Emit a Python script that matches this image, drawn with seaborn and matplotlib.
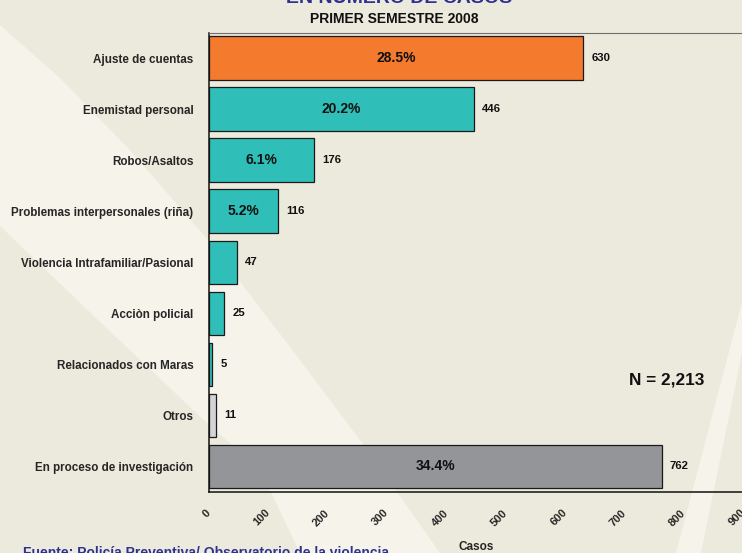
import numpy as np
import pandas as pd
import matplotlib
matplotlib.use("Agg")
import matplotlib.pyplot as plt
from matplotlib.patches import Polygon
import seaborn as sns

# ==========================================
# DATA
# ==========================================
categories = [
    "Ajuste de cuentas",
    "Enemistad personal",
    "Robos/Asaltos",
    "Problemas interpersonales (riña)",
    "Violencia Intrafamiliar/Pasional",
    "Acciòn policial",
    "Relacionados con Maras",
    "Otros",
    "En proceso de investigación",
]
casos = [630, 446, 176, 116, 47, 25, 5, 11, 762]
pct_labels = ["28.5%", "20.2%", "6.1%", "5.2%", "", "", "", "", "34.4%"]
bar_colors = ["#F47A2D", "#2FBFB8", "#2FBFB8", "#2FBFB8", "#2FBFB8",
              "#2FBFB8", "#2FBFB8", "#D4D4D6", "#949598"]
x_ticks = [0, 100, 200, 300, 400, 500, 600, 700, 800, 900]

df = pd.DataFrame({"categoria": categories, "casos": casos})

# ==========================================
# STYLE
# ==========================================
sns.set_style("white")
plt.rcParams["font.family"] = ["Liberation Sans", "DejaVu Sans"]
plt.rcParams["font.weight"] = "bold"

BG = "#ECEADC"
LIGHT = "#F5F3EA"
BLUE = "#2E3192"

W, H = 742, 553
fig = plt.figure(figsize=(W / 100, H / 100), dpi=100)
fig.patch.set_facecolor(BG)


def px(points):
    # pixel coords (y down) -> figure fraction
    return [(x / W, 1 - y / H) for x, y in points]


# light diagonal bands in the background
band1 = [(0, 25), (60, 78), (130, 150), (209, 241), (300, 360), (369, 452), (440, 553),
         (300, 553), (265, 480), (240, 452), (209, 425), (100, 322), (0, 226)]
band2 = [(742, 302), (742, 353), (701, 553), (676, 553)]
for b in (band1, band2):
    fig.add_artist(Polygon(px(b), closed=True, facecolor=LIGHT, edgecolor="none",
                           transform=fig.transFigure, zorder=0))

ax = fig.add_axes([209 / W, 61 / H, 534.6 / W, 459.5 / H])
ax.set_facecolor("none")

sns.barplot(data=df, x="casos", y="categoria", hue="categoria", palette=bar_colors,
            legend=False, width=0.85, edgecolor="#1A1A1A", linewidth=0.9,
            saturation=1, ax=ax)

ax.set_xlim(0, 900)
ax.set_ylim(8.5, -0.5)

# labels: percentages inside, counts at the end
for i, cont in enumerate(ax.containers):
    ax.bar_label(cont, labels=[pct_labels[i]], label_type="center",
                 fontsize=10, fontweight="bold", color="#111111")
    ax.bar_label(cont, labels=[str(casos[i])], padding=6,
                 fontsize=8.2, fontweight="bold", color="#111111")

# axes look
for side in ("left", "bottom"):
    ax.spines[side].set_color("#111111")
    ax.spines[side].set_linewidth(1.1)
ax.spines["top"].set_color("#6E6E6E")
ax.spines["top"].set_linewidth(0.8)
ax.spines["right"].set_visible(False)

ax.set_xticks(x_ticks)
ax.set_xticklabels([str(t) for t in x_ticks], rotation=45, ha="right", va="center",
                   rotation_mode="anchor", fontsize=8, fontweight="bold")
ax.tick_params(axis="x", direction="out", length=5.8, width=1, pad=8, color="#111111")
ax.tick_params(axis="y", direction="inout", length=11.5, width=1, pad=5.5, color="#111111")
for lab in ax.get_yticklabels():
    lab.set_fontsize(8.4)
    lab.set_fontweight("bold")

ax.set_ylabel("")
ax.set_xlabel("Casos", fontsize=8.5, fontweight="bold")
ax.xaxis.set_label_coords(0.5, -0.1066)

# titles and notes
fig.text(399 / W, 1 - 3 / H, "EN NÚMERO DE CASOS", ha="center", va="baseline",
         fontsize=14, fontweight="bold", color=BLUE)
fig.text(394 / W, 1 - 19 / H, "PRIMER SEMESTRE 2008", ha="center", va="center",
         fontsize=10, fontweight="bold", color="#111111")
fig.text(629 / W, 1 - 380 / H, "N = 2,213", ha="left", va="center",
         fontsize=12.4, fontweight="bold", color="#111111")
fig.text(23 / W, 1 - 546 / H, "Fuente: Policía Preventiva/ Observatorio de la violencia",
         ha="left", va="top", fontsize=10, fontweight="bold", color=BLUE)

fig.savefig("out.png", dpi=100, facecolor=fig.get_facecolor())
